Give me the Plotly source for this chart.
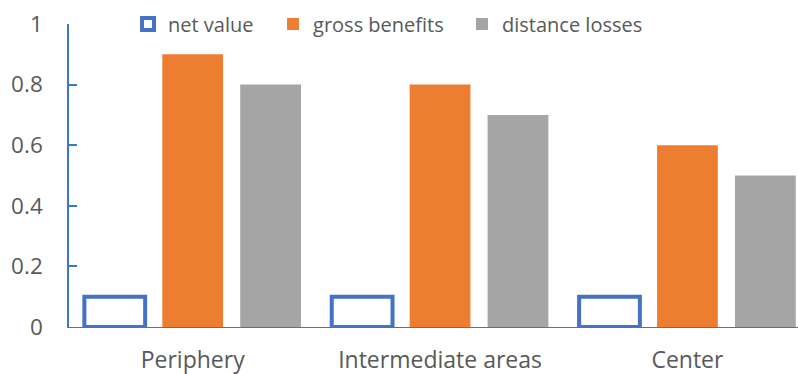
import plotly.graph_objects as go

categories = ["Periphery", "Intermediate areas", "Center"]
net_value = [0.1, 0.1, 0.1]
gross_benefits = [0.9, 0.8, 0.6]
distance_losses = [0.8, 0.7, 0.5]
y_ticks = [0, 0.2, 0.4, 0.6, 0.8, 1]
y_tick_text = ["0", "0.2", "0.4", "0.6", "0.8", "1"]

FONT = "Open Sans"
TXT = "#595959"
AXIS = "#3A78C4"

fig = go.Figure()
fig.add_trace(go.Bar(name="net value", x=categories, y=net_value, legend="legend",
                     marker=dict(color="white", line=dict(color="#4472C4", width=4))))
fig.add_trace(go.Bar(name="gross benefits", x=categories, y=gross_benefits, legend="legend2",
                     marker=dict(color="#ED7D31", line=dict(width=0))))
fig.add_trace(go.Bar(name="distance losses", x=categories, y=distance_losses, legend="legend3",
                     marker=dict(color="#A5A5A5", line=dict(width=0))))

def leg(x):
    return dict(orientation="h", x=x, xanchor="left", y=1.0, yanchor="middle",
                font=dict(family=FONT, size=20, color=TXT),
                bgcolor="rgba(0,0,0,0)")

fig.update_layout(
    width=798, height=374,
    margin=dict(l=69, r=0, t=24, b=47),
    paper_bgcolor="white", plot_bgcolor="white",
    barmode="group", bargap=0.055, bargroupgap=0.22,
    font=dict(family=FONT, size=20, color=TXT),
    showlegend=True,
    legend=leg(0.0810), legend2=leg(0.2799), legend3=leg(0.5391),
    xaxis=dict(type="category", range=[-0.5, 2.447], showline=True, linecolor=AXIS,
               linewidth=1, ticks="", showgrid=False, ticklabelstandoff=12, automargin=False,
               tickfont=dict(family=FONT, size=23, color=TXT)),
    yaxis=dict(range=[0, 1], tickvals=y_ticks, ticktext=y_tick_text, showline=True,
               linecolor=AXIS, linewidth=1.5, ticks="inside", ticklen=8, tickwidth=1.5,
               tickcolor=AXIS, showgrid=False, zeroline=False, ticklabelstandoff=20,
               automargin=False, tickfont=dict(family=FONT, size=22.5, color=TXT)),
)

fig.write_html("out.html")
